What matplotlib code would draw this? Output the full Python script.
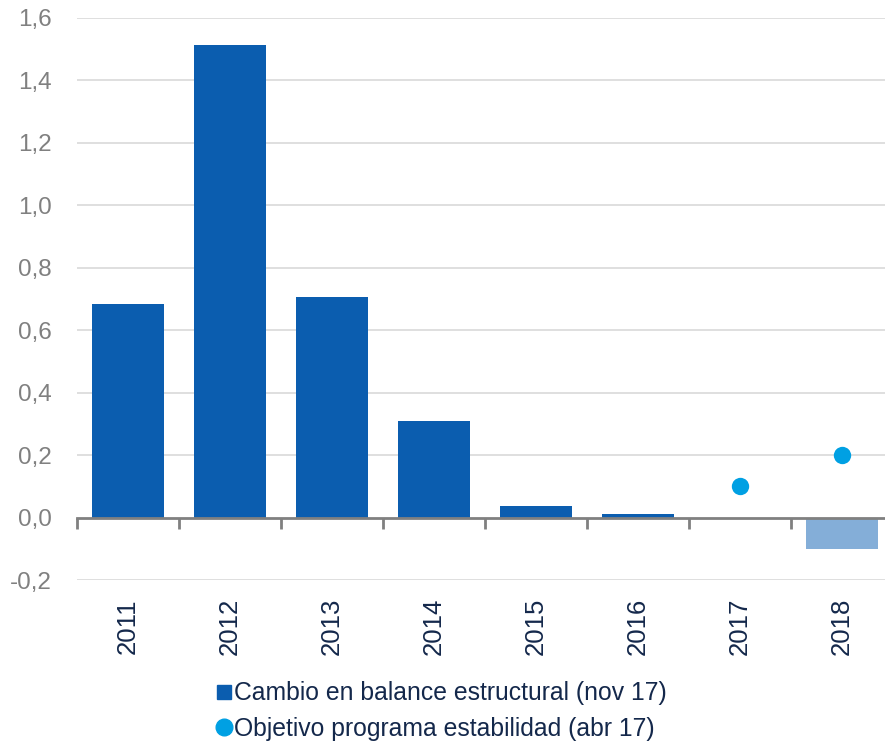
import matplotlib
matplotlib.use("Agg")
import matplotlib.pyplot as plt
import numpy as np
from matplotlib.lines import Line2D

plt.rcParams['font.family'] = ['Liberation Sans', 'DejaVu Sans']

years = ['2011', '2012', '2013', '2014', '2015', '2016', '2017', '2018']
cambio = [0.685, 1.515, 0.707, 0.31, 0.038, 0.01, 0.0, -0.1]
objetivo = [None, None, None, None, None, None, 0.1, 0.2]
yticks = [-0.2, 0.0, 0.2, 0.4, 0.6, 0.8, 1.0, 1.2, 1.4, 1.6]
ytick_labels = ['-0,2', '0,0', '0,2', '0,4', '0,6', '0,8', '1,0', '1,2', '1,4', '1,6']

dark_blue = '#0B5DAF'
light_blue = '#84AED8'
dot_color = '#00A0E3'
navy = '#14284B'
gray = '#808080'

fig = plt.figure(figsize=(8.85, 7.41), dpi=100)
ax = fig.add_axes([77/885, 1-580/741, (893-77)/885, (580-18)/741])

x = np.arange(len(years))
colors = [dark_blue if i < len(years) - 1 else light_blue for i in range(len(years))]
ax.bar(x, cambio, width=0.71, color=colors, zorder=2)

ox = [i for i, v in enumerate(objetivo) if v is not None]
oy = [v for v in objetivo if v is not None]
ax.plot(ox, oy, 'o', color=dot_color, markersize=12.5, markeredgewidth=0, zorder=3)

ax.set_xlim(-0.5, len(years) - 0.5)
ax.set_ylim(-0.2, 1.6)
ax.set_yticks(yticks)
ax.set_yticklabels(ytick_labels)
ax.tick_params(axis='y', length=0, pad=18, labelsize=17.5, labelcolor=gray)
for v in yticks:
    if v != 0:
        ax.axhline(v, color='#D9D9D9', lw=1.2, zorder=0)

for s in ['top', 'right', 'left']:
    ax.spines[s].set_visible(False)
ax.spines['bottom'].set_position(('data', 0))
ax.spines['bottom'].set_color(gray)
ax.spines['bottom'].set_linewidth(2)
ax.spines['bottom'].set_zorder(4)

ax.set_xticks(np.arange(-0.5, len(years)), minor=False)
ax.set_xticklabels([])
ax.set_xticks(x, minor=True)
ax.set_xticklabels(years, minor=True, rotation=90)
ax.tick_params(axis='x', which='major', length=8, width=2, color=gray, direction='out')
ax.tick_params(axis='x', which='minor', length=0, pad=58, labelsize=18.5, labelcolor=navy)

handles = [
    Line2D([], [], marker='s', linestyle='none', color=dark_blue, markersize=10),
    Line2D([], [], marker='o', linestyle='none', color=dot_color, markersize=12),
]
labels = ['Cambio en balance estructural (nov 17)', 'Objetivo programa estabilidad (abr 17)']
leg = fig.legend(handles, labels, loc='center', bbox_to_anchor=(439/885, 1-711/741),
                 frameon=False, fontsize=17.8, handletextpad=-0.1, labelspacing=0.45,
                 handlelength=1.0, borderpad=0)
for t in leg.get_texts():
    t.set_color(navy)

fig.savefig('out.png', dpi=100)
